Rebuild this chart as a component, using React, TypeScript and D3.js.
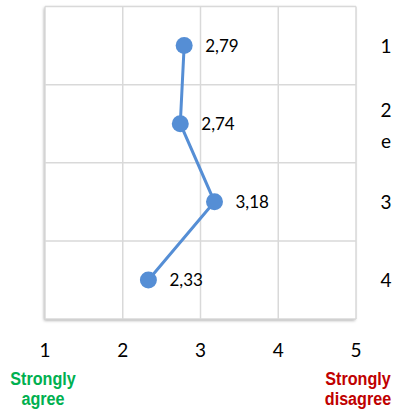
import React from "react";
import * as d3 from "d3";

const questions = ["1", "2", "3", "4"];
const questionLines = [["1"], ["2", "e"], ["3"], ["4"]];
const values = [2.79, 2.74, 3.18, 2.33];
const valueLabels = ["2,79", "2,74", "3,18", "2,33"];
const xTicks = [1, 2, 3, 4, 5];
const leftAnchor = ["Strongly", "agree"];
const rightAnchor = ["Strongly", "disagree"];

export default function App() {
  const W = 393, H = 412;
  const left = 45, right = 356, top = 6.5, bottom = 319;
  const x = d3.scaleLinear().domain([1, 5]).range([left, right]);
  const y = d3.scaleBand().domain(questions).range([top, bottom]);
  const yc = (q: string) => (y(q) as number) + y.bandwidth() / 2;
  const line = d3
    .line<number>()
    .x((d) => x(d))
    .y((_, i) => yc(questions[i]));
  const hLines = [top, ...questions.map((q) => (y(q) as number) + y.bandwidth())];
  const labelFont = "Lato, Calibri, 'Open Sans', sans-serif";
  const narrow = "'Liberation Sans', Arial, sans-serif";
  return (
    <svg width={W} height={H} style={{ position: "absolute", left: 0, top: 0 }}>
      <defs>
        <filter id="sh" x="-10%" y="-10%" width="120%" height="120%">
          <feDropShadow dx="-1" dy="1.5" stdDeviation="1.5" floodColor="#000" floodOpacity="0.35" />
        </filter>
      </defs>
      <rect x={left} y={top} width={right - left} height={bottom - top} fill="#fff" filter="url(#sh)" />
      <g stroke="#d9d9d9" strokeWidth={1.5}>
        {xTicks.map((t) => (
          <line key={"v" + t} x1={x(t)} x2={x(t)} y1={top} y2={bottom} />
        ))}
        {hLines.map((h, i) => (
          <line key={"h" + i} x1={left} x2={right} y1={h} y2={h} />
        ))}
      </g>
      <path d={line(values) || ""} fill="none" stroke="#558ed5" strokeWidth={3} />
      {values.map((v, i) => (
        <g key={i}>
          <circle cx={x(v)} cy={yc(questions[i])} r={8.5} fill="#558ed5" />
          <text x={x(v) + 21} y={yc(questions[i]) + 6.5} fontFamily={labelFont} fontSize={17} fill="#000">
            {valueLabels[i]}
          </text>
        </g>
      ))}
      {questionLines.map((ls, i) => {
        const c = yc(questions[i]);
        const n = ls.length;
        return ls.map((s, j) => (
          <text
            key={i + "-" + j}
            x={386}
            y={c + 7 + (j - (n - 1) / 2) * 31 + (n > 1 ? 2 : 0)}
            textAnchor="middle"
            fontFamily={labelFont}
            fontSize={19}
            fill="#000"
          >
            {s}
          </text>
        ));
      })}
      {xTicks.map((t) => (
        <text key={"t" + t} x={x(t)} y={357} textAnchor="middle" fontFamily={labelFont} fontSize={19} fill="#000">
          {t}
        </text>
      ))}
      {leftAnchor.map((s, i) => (
        <g key={"la" + i} transform={`translate(${x(1) - 2},${385 + i * 20}) scale(0.85,1)`}>
          <text textAnchor="middle" fontFamily={narrow} fontWeight="bold" fontSize={19} fill="#00b050">
            {s}
          </text>
        </g>
      ))}
      {rightAnchor.map((s, i) => (
        <g key={"ra" + i} transform={`translate(${x(5) + 2},${385 + i * 20}) scale(0.85,1)`}>
          <text textAnchor="middle" fontFamily={narrow} fontWeight="bold" fontSize={19} fill="#c00000">
            {s}
          </text>
        </g>
      ))}
    </svg>
  );
}
